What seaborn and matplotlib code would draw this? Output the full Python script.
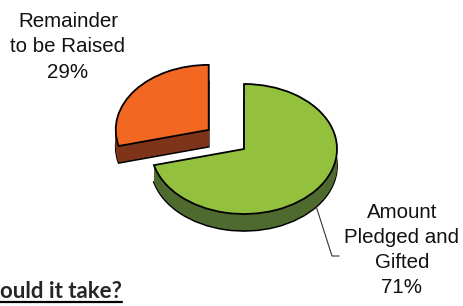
import numpy as np
import matplotlib
matplotlib.use("Agg")
import matplotlib.pyplot as plt
import seaborn as sns
from matplotlib.lines import Line2D

# data
labels = ["Amount\nPledged and\nGifted", "Remainder\nto be Raised"]
shares = [71, 29]
top_colors = ["#93C13E", "#F26722"]
side_colors = ["#4F6A2F", "#7E3419"]
explode = [0.0, 0.48]

sns.set_theme(style="white")
plt.rcParams["font.family"] = ["Liberation Sans", "DejaVu Sans"]

W, H = 463, 306
fig = plt.figure(figsize=(W / 100, H / 100), dpi=100)
ax = fig.add_axes([0, 0, 1, 1])

# tilted pie: pixel radii and centre (from bottom-left)
rx, ry = 93, 65
cx, cy = 244, 157
depth = 0.26
n_layers = 26

# stack of pies to fake the 3D side walls, top face last
for k, off in enumerate(np.linspace(-depth, 0, n_layers)):
    top = k == n_layers - 1
    wedges, _ = ax.pie(
        shares, startangle=90, counterclock=False, explode=explode,
        center=(0, off), colors=top_colors if top else side_colors,
        wedgeprops=dict(edgecolor="black" if (top or k == 0) else "none",
                        linewidth=1.3),
        frame=True,
    )
    for w, z in zip(wedges, [3, 2]):
        w.set_zorder(z + k * 0.001 + (10 if top else 0))

ax.set_aspect("auto")
ax.set_xlim(-cx / rx, (W - cx) / rx)
ax.set_ylim(-cy / ry, (H - cy) / ry)
ax.axis("off")

pct = [f"{s}%" for s in shares]

def px(x, y):
    return ((x - cx) / rx, (y - cy) / ry)

# orange label
ax.text(*px(68, 259), f"{labels[1]}\n{pct[1]}", ha="center", va="center",
        fontsize=14.8, linespacing=1.42, color="#111111")
# green label
ax.text(*px(402, 56), f"{labels[0]}\n{pct[0]}", ha="center", va="center",
        fontsize=14.8, linespacing=1.42, color="#111111")

# leader line from the rim of the green slice
ang = np.deg2rad(-39)
rim = (np.cos(ang), np.sin(ang) - depth)
elbow = px(332, 50)
end = px(339, 50)
ax.plot([rim[0], elbow[0], end[0]], [rim[1], elbow[1], end[1]],
        color="#333333", lw=0.8, zorder=20)

# cropped heading at the bottom
t = fig.text(0.0, 8 / H, "ould it take?", fontsize=16, fontweight="bold",
             family=["Lato", "DejaVu Sans"], ha="left", va="baseline")
fig.canvas.draw()
bb = t.get_window_extent()
fig.add_artist(Line2D([bb.x0 / W, bb.x1 / W], [4.5 / H, 4.5 / H], color="black",
                      lw=1.6, transform=fig.transFigure))

fig.savefig("out.png", dpi=100)
